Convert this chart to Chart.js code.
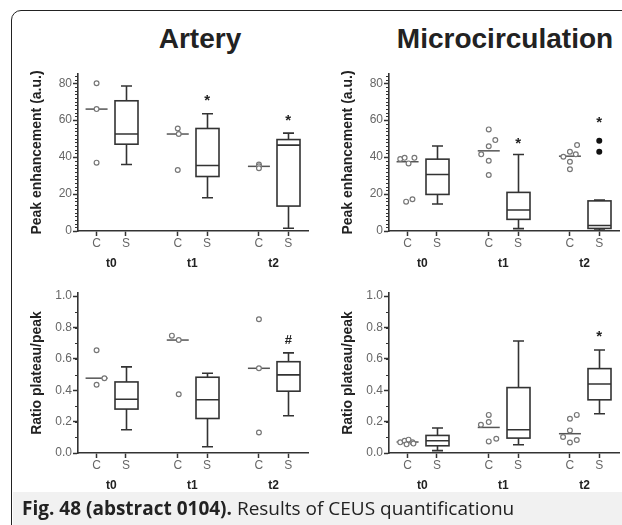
<!DOCTYPE html>
<html lang="en">
<head>
  <meta charset="UTF-8">
  <title>Results of CEUS quantification</title>
  <script src="https://cdn.jsdelivr.net/npm/chart.js"></script>
  <style>
    html, body {
      margin: 0;
      padding: 0;
      width: 622px;
      height: 525px;
      overflow: hidden;
      background: #fff;
    }
    .frame {
      position: absolute;
      left: 11px;
      top: 10px;
      width: 700px;
      height: 600px;
      border: 1.5px solid #222;
      border-top-left-radius: 10px;
    }
    .caption-band {
      position: absolute;
      left: 13px;
      top: 492px;
      width: 620px;
      height: 40px;
      background: #f1f1f1;
    }
    .title {
      position: absolute;
      top: 24px;
      font: bold 28px "Liberation Sans", Arial, sans-serif;
      line-height: 30px;
      color: #222;
      text-align: center;
      width: 300px;
    }
    .caption {
      position: absolute;
      left: 22px;
      top: 497px;
      font: 19px "Open Sans", sans-serif;
      line-height: 22px;
      color: #222;
      white-space: nowrap;
    }
    .caption b { font-weight: 700; }
    .panel { position: absolute; }
  </style>
</head>
<body>
  <div class="frame"></div>
  <div class="caption-band"></div>
  <div class="title" style="left:50px">Artery</div>
  <div class="title" style="left:355px">Microcirculation</div>

  <div class="panel" style="left:25px; top:60px; width:289px; height:215px"><canvas id="arteryPeak"></canvas></div>
  <div class="panel" style="left:336px; top:60px; width:289px; height:215px"><canvas id="microPeak"></canvas></div>
  <div class="panel" style="left:25px; top:280px; width:289px; height:217px"><canvas id="arteryRatio"></canvas></div>
  <div class="panel" style="left:336px; top:280px; width:289px; height:217px"><canvas id="microRatio"></canvas></div>

  <div class="caption"><b>Fig. 48 (abstract 0104).</b> Results of CEUS quantificationu</div>

  <script>
    const groupLabels = ['t0', 't1', 't2'];
    const subLabels = ['C', 'S'];

    // S groups: [min, q1, median, q3, max]
    // peak enhancement, artery
    const arteryPeakC = [[80, 66, 37], [55.5, 52.5, 33], [36, 35, 34]];
    const arteryPeakCMedian = [66, 52.5, 35];
    const arteryPeakS = [[36, 47, 52.5, 70.5, 78.5], [18, 29.5, 35.5, 55.5, 63.5], [1.5, 13.5, 46.5, 49.5, 53]];
    const arteryPeakMarks = [null, 72, 61];

    // peak enhancement, microcirculation
    const microPeakC = [[39, 39.6, 36.6, 39.6, 15.9, 17.2], [55, 49.2, 45.9, 41.5, 38, 30.3], [46.5, 42.9, 40.2, 41.5, 37.5, 33.4]];
    const microPeakCMedian = [37.5, 43.4, 40.5];
    const microPeakS = [[14.6, 19.8, 30.6, 38.9, 46], [1.3, 6.3, 11.4, 20.9, 41.4], [0.5, 1.4, 3.0, 16.3, 16.7]];
    const microPeakOutliers = [[], [], [48.8, 42.9]];
    const microPeakMarks = [null, 48.6, 60.2];

    // ratio plateau/peak, artery
    const arteryRatioC = [[0.655, 0.435, 0.477], [0.748, 0.72, 0.375], [0.853, 0.54, 0.131]];
    const arteryRatioCMedian = [0.477, 0.72, 0.54];
    const arteryRatioS = [[0.148, 0.28, 0.343, 0.453, 0.549], [0.04, 0.22, 0.339, 0.483, 0.508], [0.237, 0.394, 0.498, 0.582, 0.638]];
    const arteryRatioMarks = [null, null, 0.72];

    // ratio plateau/peak, microcirculation
    const microRatioC = [[0.068, 0.078, 0.085, 0.068, 0.055, 0.06], [0.243, 0.197, 0.18, 0.091, 0.074], [0.243, 0.218, 0.144, 0.102, 0.067, 0.083]];
    const microRatioCMedian = [0.07, 0.163, 0.123];
    const microRatioS = [[0.015, 0.046, 0.078, 0.112, 0.159], [0.053, 0.095, 0.148, 0.417, 0.714], [0.25, 0.339, 0.44, 0.538, 0.657]];
    const microRatioMarks = [null, null, 0.758];

    // horizontal scatter of the C dots, in px
    const arteryPeakJitter = [[0, 0, 0], [0, 1, 0], [0, 0, 0]];
    const microPeakJitter = [[-7.5, -3, 1, 7, -1.5, 5], [0, 6.7, 0, -7.7, 0, 0], [7.3, 0, -6.7, 6, 0, 0]];
    const arteryRatioJitter = [[0, 0, 8], [-6, 1, 1], [0, 0, 0]];
    const microRatioJitter = [[-7.5, -3, 1, 5, -1, 6], [0, 0, -8, 7.7, 0], [7, 0, 0, -7, 0, 7]];

    const UNIT = 30;       // px per x unit
    const X_MAX = 7.867;
    const xOf = (g, s) => 0.633 + g * 2.767 + s;

    const INK = '#333';
    const GREY = '#777';
    const FONT = '"Liberation Sans", Arial, sans-serif';

    const boxPlugin = {
      id: 'boxes',
      beforeDatasetsDraw(chart, args, o) {
        const { ctx, scales: { x, y } } = chart;
        ctx.save();
        ctx.strokeStyle = '#555';
        ctx.lineWidth = 1.5;
        o.cMed.forEach((m, g) => {
          const cx = x.getPixelForValue(xOf(g, 0)), py = y.getPixelForValue(m);
          ctx.beginPath();
          ctx.moveTo(cx - 11, py);
          ctx.lineTo(cx + 11, py);
          ctx.stroke();
        });
        ctx.restore();
      },
      afterDatasetsDraw(chart, args, o) {
        const { ctx, scales: { x, y } } = chart;
        ctx.save();
        ctx.strokeStyle = INK;
        ctx.lineWidth = 1.6;
        o.s.forEach((b, g) => {
          const cx = Math.round(x.getPixelForValue(xOf(g, 1))) + 0.5;
          const [lo, q1, med, q3, hi] = b.map(v => y.getPixelForValue(v));
          ctx.beginPath();
          ctx.moveTo(cx, lo); ctx.lineTo(cx, q1);
          ctx.moveTo(cx, q3); ctx.lineTo(cx, hi);
          ctx.moveTo(cx - 5.5, lo); ctx.lineTo(cx + 5.5, lo);
          ctx.moveTo(cx - 5.5, hi); ctx.lineTo(cx + 5.5, hi);
          ctx.moveTo(cx - 11.5, med); ctx.lineTo(cx + 11.5, med);
          ctx.stroke();
          ctx.strokeRect(cx - 11.5, q3, 23, q1 - q3);
        });
        ctx.fillStyle = '#222';
        ctx.textAlign = 'center';
        ctx.textBaseline = 'middle';
        ctx.font = 'bold ' + o.markSize + 'px ' + FONT;
        o.marks.forEach((m, g) => {
          if (m == null) return;
          ctx.fillText(o.markText, x.getPixelForValue(xOf(g, 1)), y.getPixelForValue(m) + o.markShift);
        });
        // minor ticks on the y axis
        ctx.strokeStyle = INK;
        ctx.lineWidth = 1;
        const ax = x.left;
        for (let v = o.minorStep; v < y.max; v += o.minorStep) {
          const py = Math.round(y.getPixelForValue(v)) + 0.5;
          ctx.beginPath();
          ctx.moveTo(ax, py);
          ctx.lineTo(ax - 3, py);
          ctx.stroke();
        }
        ctx.restore();
      }
    };

    function makeChart(id, cfg) {
      const cPoints = [];
      cfg.c.forEach((vals, g) => vals.forEach((v, i) => {
        cPoints.push({ x: xOf(g, 0) + cfg.jitter[g][i] / UNIT, y: v });
      }));
      const outPoints = [];
      (cfg.outliers || []).forEach((vals, g) => vals.forEach(v => outPoints.push({ x: xOf(g, 1), y: v })));

      const catTicks = [];
      groupLabels.forEach((gl, g) => subLabels.forEach((sl, s) => catTicks.push({ value: xOf(g, s), label: sl })));

      new Chart(document.getElementById(id), {
        type: 'scatter',
        data: {
          datasets: [
            {
              data: cPoints,
              pointStyle: 'circle',
              pointRadius: 2.4,
              borderWidth: 1.2,
              borderColor: GREY,
              backgroundColor: '#fff'
            },
            {
              data: outPoints,
              pointRadius: 3,
              borderWidth: 0,
              backgroundColor: '#111'
            }
          ]
        },
        options: {
          responsive: true,
          maintainAspectRatio: false,
          animation: false,
          layout: { padding: { top: cfg.padTop, left: 0, right: 0, bottom: 0 } },
          plugins: {
            legend: { display: false },
            tooltip: { enabled: false },
            boxes: {
              s: cfg.s, cMed: cfg.cMed, marks: cfg.marks, markText: cfg.markText,
              markSize: cfg.markSize, markShift: cfg.markShift, minorStep: cfg.minorStep
            }
          },
          scales: {
            x: {
              type: 'linear',
              position: 'bottom',
              min: 0,
              max: X_MAX,
              weight: 0,
              afterBuildTicks: sc => { sc.ticks = catTicks.map(t => ({ value: t.value })); },
              afterFit: sc => { sc.height = 20; sc.paddingLeft = 0; sc.paddingRight = 0; },
              ticks: {
                autoSkip: false,
                maxRotation: 0,
                padding: 0,
                color: '#666',
                font: { family: FONT, size: 12 },
                callback: (v, i) => catTicks[i].label
              },
              grid: { display: true, drawOnChartArea: false, drawTicks: true, tickLength: 5, tickColor: INK, tickWidth: 1.5 },
              border: { display: true, color: INK, width: 1.6 }
            },
            x2: {
              type: 'linear',
              position: 'bottom',
              min: 0,
              max: X_MAX,
              weight: 1,
              afterBuildTicks: sc => { sc.ticks = groupLabels.map((g, i) => ({ value: xOf(i, 0.5) })); },
              afterFit: sc => { sc.height = 24; sc.paddingLeft = 0; sc.paddingRight = 0; },
              ticks: {
                autoSkip: false,
                maxRotation: 0,
                padding: 5,
                color: '#222',
                font: { family: FONT, size: 12, weight: 'bold' },
                callback: (v, i) => groupLabels[i]
              },
              grid: { display: false, drawTicks: false },
              border: { display: false }
            },
            y: {
              type: 'linear',
              min: 0,
              max: cfg.yMax,
              afterBuildTicks: sc => { sc.ticks = cfg.yTicks.map(v => ({ value: v })); },
              afterFit: sc => { sc.width = 53; sc.paddingTop = 0; sc.paddingBottom = 0; },
              ticks: {
                autoSkip: false,
                padding: 1,
                color: '#666',
                font: { family: FONT, size: 12 },
                callback: v => cfg.fmt(v)
              },
              grid: { display: true, drawOnChartArea: false, drawTicks: true, tickLength: 5, tickColor: INK, tickWidth: 1.5 },
              border: { display: true, color: INK, width: 1.6 },
              title: {
                display: true,
                text: cfg.yTitle,
                color: '#222',
                font: { family: FONT, size: 14, weight: 'bold' },
                padding: { top: 4, bottom: 4 }
              }
            }
          }
        },
        plugins: [boxPlugin]
      });
    }

    const peakTicks = [0, 20, 40, 60, 80];
    const ratioTicks = [0, 0.2, 0.4, 0.6, 0.8, 1.0];

    makeChart('arteryPeak', {
      c: arteryPeakC, jitter: arteryPeakJitter, cMed: arteryPeakCMedian, s: arteryPeakS,
      marks: arteryPeakMarks, markText: '*', markSize: 15, markShift: 3,
      yMax: 85, yTicks: peakTicks, minorStep: 2, fmt: v => String(v),
      yTitle: 'Peak enhancement (a.u.)', padTop: 14
    });
    makeChart('microPeak', {
      c: microPeakC, jitter: microPeakJitter, cMed: microPeakCMedian, s: microPeakS,
      outliers: microPeakOutliers,
      marks: microPeakMarks, markText: '*', markSize: 15, markShift: 3,
      yMax: 85, yTicks: peakTicks, minorStep: 2, fmt: v => String(v),
      yTitle: 'Peak enhancement (a.u.)', padTop: 14
    });
    makeChart('arteryRatio', {
      c: arteryRatioC, jitter: arteryRatioJitter, cMed: arteryRatioCMedian, s: arteryRatioS,
      marks: arteryRatioMarks, markText: '#', markSize: 13, markShift: 0,
      yMax: 1.02, yTicks: ratioTicks, minorStep: 0.1, fmt: v => v.toFixed(1),
      yTitle: 'Ratio plateau/peak', padTop: 13
    });
    makeChart('microRatio', {
      c: microRatioC, jitter: microRatioJitter, cMed: microRatioCMedian, s: microRatioS,
      marks: microRatioMarks, markText: '*', markSize: 15, markShift: 3,
      yMax: 1.02, yTicks: ratioTicks, minorStep: 0.1, fmt: v => v.toFixed(1),
      yTitle: 'Ratio plateau/peak', padTop: 13
    });
  </script>
</body>
</html>
